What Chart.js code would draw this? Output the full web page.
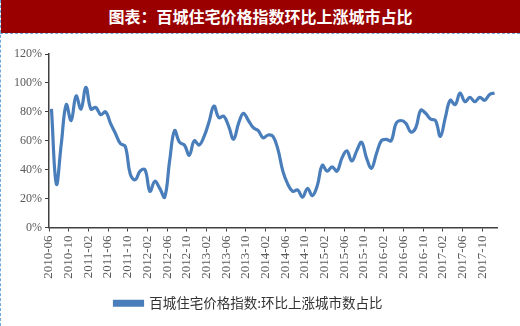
<!DOCTYPE html>
<html>
<head>
<meta charset="utf-8">
<script src="https://cdn.jsdelivr.net/npm/chart.js@4/dist/chart.umd.min.js"></script>
<style>
  html, body { margin: 0; padding: 0; background: #fff; }
  #wrap { position: relative; width: 520px; height: 326px; overflow: hidden; }
  #title { position: absolute; left: 1px; top: 0; width: 519px; height: 33px; background: #9a0000;
           color: #fff; font: bold 16px "Noto Sans CJK SC", sans-serif; line-height: 33px; text-align: center; }
  #dashL { position: absolute; left: 0; top: 0; width: 0; height: 326px; border-left: 1px dashed #6fa8dc; }
  #dashT { position: absolute; left: 0; top: 33px; width: 520px; height: 0; border-top: 1px dashed #6fa8dc; }
  canvas { position: absolute; left: 0; top: 0; }
</style>
</head>
<body>
<div id="wrap">
  <canvas id="c" width="520" height="326"></canvas>
  <div id="title">图表：百城住宅价格指数环比上涨城市占比</div>
  <div id="dashL"></div>
  <div id="dashT"></div>
</div>
<script>
const seriesName = "百城住宅价格指数:环比上涨城市数占比";

const months = [
  "2010-06","2010-07","2010-08","2010-09","2010-10","2010-11","2010-12",
  "2011-01","2011-02","2011-03","2011-04","2011-05","2011-06","2011-07","2011-08","2011-09","2011-10","2011-11","2011-12",
  "2012-01","2012-02","2012-03","2012-04","2012-05","2012-06","2012-07","2012-08","2012-09","2012-10","2012-11","2012-12",
  "2013-01","2013-02","2013-03","2013-04","2013-05","2013-06","2013-07","2013-08","2013-09","2013-10","2013-11","2013-12",
  "2014-01","2014-02","2014-03","2014-04","2014-05","2014-06","2014-07","2014-08","2014-09","2014-10","2014-11","2014-12",
  "2015-01","2015-02","2015-03","2015-04","2015-05","2015-06","2015-07","2015-08","2015-09","2015-10","2015-11","2015-12",
  "2016-01","2016-02","2016-03","2016-04","2016-05","2016-06","2016-07","2016-08","2016-09","2016-10","2016-11","2016-12",
  "2017-01","2017-02","2017-03","2017-04","2017-05","2017-06","2017-07","2017-08","2017-09","2017-10","2017-11","2017-12"
];

const riseShare = [
  82, 30, 58, 85, 74, 91, 82,
  97, 82, 83, 78, 80, 72, 65, 58, 56, 37, 33, 39,
  40, 25, 32, 27, 21, 46, 67, 59, 57, 50, 60, 57,
  63, 73, 84, 76, 77, 70, 61, 72, 79, 74, 69, 67,
  62, 64, 63, 54, 39, 30, 25, 26, 21, 27, 22, 29,
  43, 39, 42, 39, 48, 53, 46, 53, 59, 48, 41, 51,
  60, 61, 60, 72, 74, 72, 66, 69, 81, 79, 75, 74,
  63, 76, 88, 85, 93, 87, 90, 87, 90, 88, 92, 93
];

const yTicks = [0, 20, 40, 60, 80, 100, 120];
const labelEvery = 4;

const lineColor = '#4a7ebb';
const axisColor = '#404040';
const textColor = '#595959';

new Chart(document.getElementById('c'), {
  type: 'line',
  data: {
    labels: months,
    datasets: [{
      label: seriesName,
      data: riseShare,
      borderColor: lineColor,
      backgroundColor: lineColor,
      borderWidth: 3.2,
      pointRadius: 0,
      tension: 0.4,
      fill: false
    }]
  },
  options: {
    responsive: false,
    animation: false,
    devicePixelRatio: 1,
    layout: { padding: { top: 54, left: 0, right: 23, bottom: 6 } },
    plugins: {
      tooltip: { enabled: false },
      legend: {
        position: 'bottom',
        labels: {
          boxWidth: 28,
          boxHeight: 4,
          padding: 3,
          color: '#333',
          font: { family: '"Noto Sans CJK SC", sans-serif', size: 13.5 }
        }
      }
    },
    scales: {
      x: {
        type: 'category',
        offset: true,
        afterFit: s => { s.height = 66; },
        border: { color: axisColor, width: 1.5 },
        grid: {
          offset: true,
          drawOnChartArea: false,
          tickLength: 4,
          tickWidth: 1,
          tickColor: ctx => (ctx.index % labelEvery === 0 ? axisColor : 'rgba(0,0,0,0)')
        },
        ticks: {
          autoSkip: false,
          maxRotation: 90,
          minRotation: 90,
          padding: 4,
          labelOffset: -2.5,
          color: textColor,
          font: { family: '"Liberation Serif", serif', size: 13 },
          callback: function (v, i) { return i % labelEvery === 0 ? months[i] : ''; }
        }
      },
      y: {
        min: 0,
        max: 120,
        afterFit: s => { s.width = 49; },
        afterBuildTicks: s => { s.ticks = yTicks.map(v => ({ value: v })); },
        border: { color: axisColor, width: 1.5 },
        grid: { drawOnChartArea: false, tickLength: 4, tickColor: axisColor },
        ticks: {
          padding: 3,
          color: textColor,
          font: { family: '"Liberation Serif", serif', size: 12 },
          callback: v => v + '%'
        }
      }
    }
  }
});
</script>
</body>
</html>
